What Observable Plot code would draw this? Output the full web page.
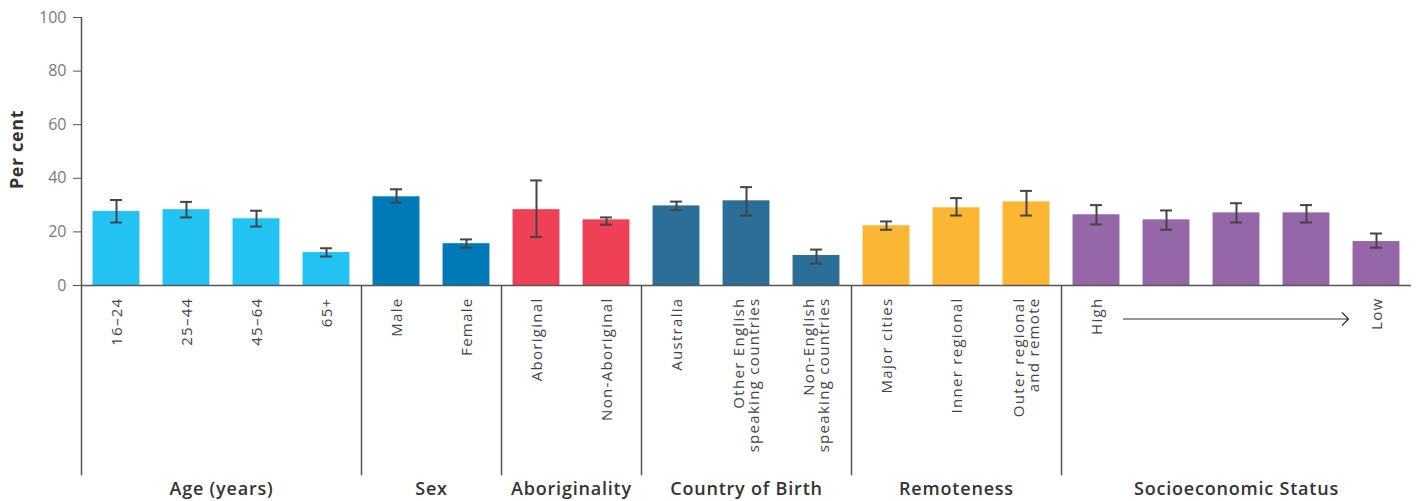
<!DOCTYPE html>
<html>
<head>
<meta charset="utf-8">
<script src="https://cdn.jsdelivr.net/npm/d3@7"></script>
<script src="https://cdn.jsdelivr.net/npm/@observablehq/plot@0.6"></script>
<style>
  html, body { margin: 0; padding: 0; background: #fff; }
  #chart svg { display: block; }
</style>
</head>
<body>
<div id="chart"></div>
<script>
// ---- data ----
const groups = ["Age (years)", "Sex", "Aboriginality", "Country of Birth", "Remoteness", "Socioeconomic Status"];
const groupSizes = [4, 2, 2, 3, 3, 5];
const groupColors = ["#22c3f3", "#0079b8", "#ef4056", "#2b6f99", "#fbb733", "#9566a8"];
const labels = ["16–24", "25–44", "45–64", "65+", "Male", "Female", "Aboriginal", "Non-Aboriginal",
  "Australia", "Other English\nspeaking countries", "Non-English\nspeaking countries",
  "Major cities", "Inner regional", "Outer regional\nand remote", "High", "", "", "", "Low"];
const values = [27.6, 28.3, 24.9, 12.3, 33.1, 15.6, 28.3, 24.5, 29.7, 31.6, 11.2, 22.3, 29.0, 31.2, 26.4, 24.5, 27.1, 27.1, 16.4];
const lower  = [23.5, 25.4, 22.0, 10.8, 30.9, 14.1, 18.1, 22.7, 28.1, 26.1, 8.2, 20.8, 26.1, 26.1, 22.8, 20.8, 23.5, 23.5, 14.1];
const upper  = [31.9, 31.2, 27.9, 13.9, 35.9, 17.2, 39.2, 25.4, 31.3, 36.7, 13.4, 23.9, 32.6, 35.3, 30.0, 28.0, 30.7, 30.0, 19.4];
const yTicks = [0, 20, 40, 60, 80, 100];
const yLabel = "Per cent";

// ---- derived tables ----
const rows = [];
const groupRows = [];
let idx = 0;
groups.forEach((g, gi) => {
  const start = idx;
  for (let k = 0; k < groupSizes[gi]; k++, idx++) {
    rows.push({i: idx, label: labels[idx], value: values[idx], lo: lower[idx], hi: upper[idx], group: g});
  }
  groupRows.push({group: g, start: start - 0.5, end: idx - 0.5, mid: (start + idx - 1) / 2});
});
const n = rows.length;
const below = -71;       // depth (in y units) of the label panel under the axis
const halfBar = 0.335, halfCap = 0.085;

const chart = Plot.plot({
  width: 1418,
  height: 501,
  marginLeft: 81,
  marginRight: 7,
  marginTop: 17,
  marginBottom: 216,
  style: {fontFamily: "'Open Sans', sans-serif", background: "#fff"},
  x: {type: "linear", domain: [-0.5, n - 0.5], axis: null},
  y: {domain: [0, 100], axis: null},
  color: {domain: groups, range: groupColors},
  marks: [
    Plot.axisY({ticks: yTicks, tickSize: 8, tickPadding: 7, fontSize: 16, color: "#7a7a7a", stroke: "#555", label: null}),
    Plot.rectY(rows, {x1: d => d.i - halfBar, x2: d => d.i + halfBar, y1: 0, y2: "value", fill: "group"}),
    Plot.ruleX(rows, {x: "i", y1: "lo", y2: "hi", stroke: "#444", strokeWidth: 2}),
    Plot.ruleY(rows, {y: "lo", x1: d => d.i - halfCap, x2: d => d.i + halfCap, stroke: "#444", strokeWidth: 2}),
    Plot.ruleY(rows, {y: "hi", x1: d => d.i - halfCap, x2: d => d.i + halfCap, stroke: "#444", strokeWidth: 2}),
    // axes and separators
    Plot.ruleY([0], {x1: -0.5, x2: n - 0.5, stroke: "#555", strokeWidth: 1.5}),
    Plot.ruleX([-0.5], {y1: 100, y2: below, stroke: "#555", strokeWidth: 1.5}),
    Plot.ruleX(groupRows.slice(1), {x: "start", y1: 0, y2: below, stroke: "#555", strokeWidth: 1.5}),
    // category labels
    Plot.text(rows, {x: "i", y: 0, text: "label", rotate: -90, textAnchor: "end", lineAnchor: "middle",
      dy: 12, fontSize: 15, fill: "#444", lineHeight: 1.05}),
    // SES arrow
    Plot.arrow([{x1: 14, x2: 18, y: -12.5}], {x1: "x1", x2: "x2", y1: "y", y2: "y", insetStart: 27, insetEnd: 28,
      stroke: "#333", strokeWidth: 1.2, headLength: 11, headAngle: 90}),
    // group labels
    Plot.text(groupRows, {x: "mid", y: below, text: "group", dy: 13, fontSize: 18, fontWeight: 600, fill: "#333", lineAnchor: "middle"}),
    // y label
    Plot.text([yLabel], {frameAnchor: "left", dx: -64, dy: -2, rotate: -90, textAnchor: "middle", fontSize: 18, fontWeight: "bold", fill: "#333"})
  ]
});
document.getElementById("chart").appendChild(chart);
// letter spacing on text marks (category labels, group labels, y label)
const textGroups = chart.querySelectorAll('g[aria-label="text"]');
if (textGroups[0]) textGroups[0].style.letterSpacing = "1.3px";
if (textGroups[1]) textGroups[1].style.letterSpacing = "0.8px";
if (textGroups[2]) textGroups[2].style.letterSpacing = "0.6px";
</script>
</body>
</html>
